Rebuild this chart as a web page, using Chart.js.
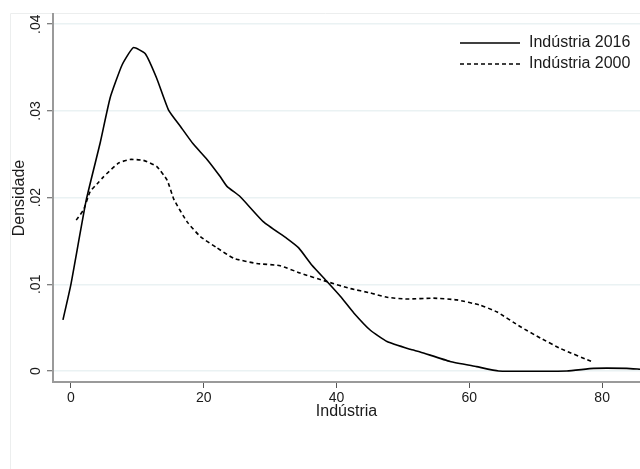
<!DOCTYPE html>
<html>
<head>
<meta charset="utf-8">
<script src="https://cdn.jsdelivr.net/npm/chart.js@4/dist/chart.umd.min.js"></script>
<style>
  body { margin: 0; background: #fff; }
</style>
</head>
<body>
<canvas id="myChart" width="640" height="469"></canvas>
<script>
// Densidade - Indústria 2016 vs 2000
const x2016 = [-1.2, 0, 2.3, 4.4, 5.9, 7.7, 9.4, 11.2, 12.9, 14.7, 16.5, 18.4, 20.5, 22.5, 23.5, 25.5, 29, 32.5, 34.3, 36.3, 38.6, 40.6, 42.6, 45.1, 47.6, 51.1, 52.6, 57.1, 61.1, 64.4, 74.7, 78.7, 83.7, 85.7];
const y2016 = [.0059, .0100, .0197, .0263, .0315, .0353, .0373, .0366, .0338, .0301, .0282, .0262, .0244, .0224, .0213, .0201, .0172, .0153, .0142, .0122, .0103, .0086, .0067, .0047, .0034, .0025, .0022, .0011, .0005, 0, 0, .0003, .0003, .0002];
const x2000 = [0.8, 1.9, 2.9, 4.2, 4.9, 7.2, 8.9, 10.9, 12.9, 14.5, 15.5, 17.5, 19.5, 22, 24.5, 28, 31.5, 34.5, 38.6, 42.1, 45.1, 47.6, 50.6, 54.6, 58.1, 61.6, 64.2, 67.7, 70.7, 73.7, 78.7];
const y2000 = [.0174, .0186, .0207, .0218, .0224, .0240, .0244, .0243, .0236, .0220, .0198, .0172, .0155, .0142, .0130, .0124, .01215, .0113, .0103, .0095, .0090, .0085, .0083, .0084, .0082, .0076, .0068, .0051, .0038, .0026, .0010];
const seriesNames = ['Indústria 2016', 'Indústria 2000'];
const xTicks = [0, 20, 40, 60, 80];
const yTicks = [0, .01, .02, .03, .04];
const yTickLabels = ['0', '.01', '.02', '.03', '.04'];
const xTitle = 'Indústria';
const yTitle = 'Densidade';

const toPoints = (xs, ys) => xs.map((x, i) => ({ x: x, y: ys[i] }));
const FONT = '"Liberation Sans", Arial, sans-serif';
const TEXT = '#1a1a1a';

const stataDecor = {
    id: 'stataDecor',
    beforeDraw(chart) {
        const c = chart.ctx;
        c.save();
        c.strokeStyle = '#eceeee';
        c.lineWidth = 1;
        c.beginPath();
        c.moveTo(10.5, 475);
        c.lineTo(10.5, 13.5);
        c.lineTo(645, 13.5);
        c.stroke();
        c.restore();
    },
    afterDraw(chart) {
        const c = chart.ctx;
        const ys = chart.scales.y;
        const area = chart.chartArea;
        c.save();
        c.fillStyle = TEXT;
        // y tick labels (vertical)
        c.font = '14px ' + FONT;
        c.textAlign = 'center';
        c.textBaseline = 'middle';
        yTicks.forEach((v, i) => {
            const py = ys.getPixelForValue(v);
            c.save();
            c.translate(36, py);
            c.rotate(-Math.PI / 2);
            c.fillText(yTickLabels[i], 0, 0);
            c.restore();
        });
        // axis titles
        c.font = '16px ' + FONT;
        c.save();
        c.translate(20, (area.top + area.bottom) / 2);
        c.rotate(-Math.PI / 2);
        c.fillText(yTitle, 0, 0);
        c.restore();
        c.fillText(xTitle, (area.left + area.right) / 2, 412);
        // legend
        c.textAlign = 'left';
        const rows = [43, 64];
        chart.data.datasets.forEach((ds, i) => {
            c.strokeStyle = ds.borderColor;
            c.lineWidth = ds.borderWidth;
            c.setLineDash(ds.borderDash || []);
            c.beginPath();
            c.moveTo(460, rows[i]);
            c.lineTo(520, rows[i]);
            c.stroke();
            c.setLineDash([]);
            c.fillText(ds.label, 529, rows[i]);
        });
        c.restore();
    }
};

const ctx = document.getElementById('myChart');
new Chart(ctx, {
    type: 'scatter',
    data: {
        datasets: [{
            label: seriesNames[0],
            data: toPoints(x2016, y2016),
            showLine: true,
            borderColor: '#000',
            borderWidth: 1.6,
            pointRadius: 0,
            tension: 0.15
        }, {
            label: seriesNames[1],
            data: toPoints(x2000, y2000),
            showLine: true,
            borderColor: '#000',
            borderWidth: 1.6,
            borderDash: [4, 3],
            pointRadius: 0,
            tension: 0.15
        }]
    },
    options: {
        responsive: false,
        animation: false,
        devicePixelRatio: 1,
        layout: { padding: { left: 0, right: 0, top: 14, bottom: 0 } },
        plugins: {
            legend: { display: false },
            tooltip: { enabled: false }
        },
        scales: {
            x: {
                type: 'linear',
                min: -2.7,
                max: 85.7,
                afterBuildTicks: s => { s.ticks = xTicks.map(v => ({ value: v })); },
                afterFit: s => { s.height = 87; },
                border: { color: '#9a9a9a', width: 2 },
                grid: { drawOnChartArea: false, drawTicks: true, tickLength: 6, tickColor: '#555', tickWidth: 1 },
                ticks: { color: TEXT, font: { size: 14, family: FONT }, padding: 2, maxRotation: 0 }
            },
            y: {
                type: 'linear',
                min: -0.00127,
                max: 0.04118,
                afterBuildTicks: s => { s.ticks = yTicks.map(v => ({ value: v })); },
                afterFit: s => { s.width = 53; },
                border: { color: '#9a9a9a', width: 2 },
                grid: { color: '#eaf2f3', lineWidth: 1.5, drawTicks: true, tickLength: 6, tickColor: '#555', tickWidth: 1 },
                ticks: { display: false }
            }
        }
    },
    plugins: [stataDecor]
});
</script>
</body>
</html>
